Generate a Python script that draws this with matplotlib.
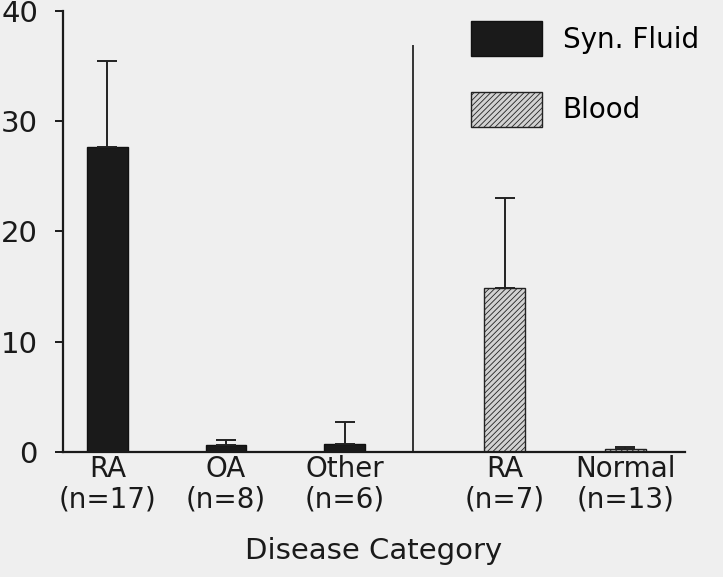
import matplotlib
matplotlib.use("Agg")
import matplotlib.pyplot as plt
from matplotlib.patches import Patch

plt.rcParams["font.family"] = ["DejaVu Sans"]
plt.rcParams["hatch.linewidth"] = 0.6

# data
fluid_labels = ["RA\n(n=17)", "OA\n(n=8)", "Other\n(n=6)"]
fluid_pos = [0, 1, 2]
fluid_vals = [27.7, 0.65, 0.75]
fluid_err = [7.8, 0.4, 1.95]

blood_labels = ["RA\n(n=7)", "Normal\n(n=13)"]
blood_pos = [3.35, 4.37]
blood_vals = [14.9, 0.3]
blood_err = [8.1, 0.15]

divider_x = 2.58
divider_top = 36.8

bg = "#efefef"
fig = plt.figure(figsize=(7.23, 5.77), dpi=100, facecolor=bg)
ax = fig.add_axes([0.0871, 0.2166, 0.8600, 0.7645])
ax.set_facecolor(bg)

err_kw = dict(ecolor="#222222", elinewidth=1.4, capsize=7, capthick=1.4)
ax.bar(fluid_pos, fluid_vals, width=0.34, color="#1a1a1a", edgecolor="#111111",
       linewidth=1, yerr=[[0] * 3, fluid_err], error_kw=err_kw, label="Syn. Fluid")
ax.bar(blood_pos, blood_vals, width=0.34, color="#d2d2d2", edgecolor="#222222",
       linewidth=1, hatch="//////", yerr=[[0] * 2, blood_err], error_kw=err_kw,
       label="Blood")

ax.plot([divider_x, divider_x], [0, divider_top], color="#333333", lw=1.4)

ax.set_xlim(-0.375, 4.87)
ax.set_ylim(0, 40)
ax.set_yticks([0, 10, 20, 30, 40])
ax.set_xticks(fluid_pos + blood_pos)
ax.set_xticklabels(fluid_labels + blood_labels, linespacing=1.12)
ax.tick_params(axis="x", length=0, pad=2, labelsize=20, colors="#1a1a1a")
ax.tick_params(axis="y", length=6, width=1.4, pad=12, labelsize=21, colors="#1a1a1a")
for s in ["top", "right"]:
    ax.spines[s].set_visible(False)
for s in ["left", "bottom"]:
    ax.spines[s].set_linewidth(1.6)
    ax.spines[s].set_color("#1a1a1a")

ax.set_xlabel("Disease Category", fontsize=21, labelpad=17, color="#1a1a1a")

handles = [Patch(facecolor="#1a1a1a", edgecolor="#111111", label="Syn. Fluid"),
           Patch(facecolor="#d2d2d2", edgecolor="#222222", hatch="//////", label="Blood")]
fig.legend(handles=handles, loc="upper left", bbox_to_anchor=(471 / 723, 1 - 21 / 577),
           frameon=False, fontsize=20, borderpad=0, borderaxespad=0, handlelength=2.55,
           handleheight=1.55, handletextpad=0.75, labelspacing=1.3)

fig.savefig("out.png", dpi=100, facecolor=bg)
